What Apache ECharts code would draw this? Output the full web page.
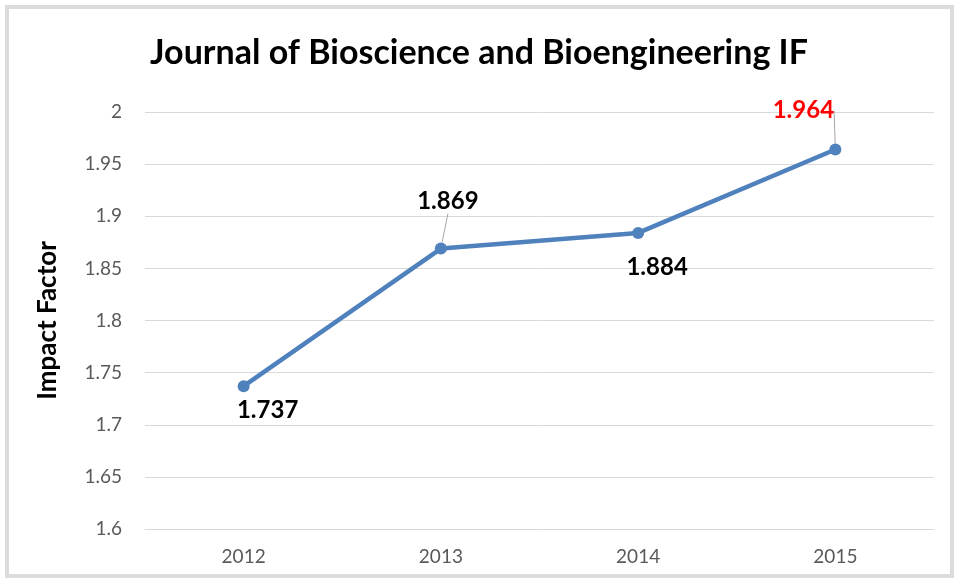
<!DOCTYPE html>
<html lang="en">
<head>
    <meta charset="UTF-8">
    <title>Journal of Bioscience and Bioengineering IF</title>
    <script src="https://cdn.jsdelivr.net/npm/echarts@6/dist/echarts.min.js"></script>
    <style>
        html, body { margin: 0; padding: 0; background: #fff; }
        #frame { position: absolute; left: 5px; top: 5px; width: 941px; height: 565px; border: 4px solid #dcdcdc; }
        #main { position: absolute; left: 0; top: 0; width: 958px; height: 581px; }
    </style>
</head>
<body>
<div id="frame"></div>
<div id="main"></div>
<script type="text/javascript">
    var years = ['2012', '2013', '2014', '2015'];
    var impactFactor = [1.737, 1.869, 1.884, 1.964];
    var yTicks = ['1.6', '1.65', '1.7', '1.75', '1.8', '1.85', '1.9', '1.95', '2'];

    // label offsets relative to the point
    var labelShift = [[24, 24], [7, -47], [19, 34], [-32, -39]];

    var myChart = echarts.init(document.getElementById('main'));
    var font = 'Lato, "Open Sans", sans-serif';

    var labelStyle = {
        show: true,
        position: 'inside',
        fontFamily: font,
        fontSize: 24,
        fontWeight: 'bold',
        color: '#000',
        formatter: function (p) { return p.value.toFixed(3); }
    };

    myChart.setOption({
        title: {
            text: 'Journal of Bioscience and Bioengineering IF',
            left: 'center',
            top: 31,
            textStyle: { fontFamily: font, fontSize: 34, fontWeight: 'bold', color: '#000' }
        },
        grid: { left: 145, right: 24, top: 112, bottom: 52 },
        xAxis: {
            type: 'category',
            data: years,
            boundaryGap: true,
            axisLine: { show: true, lineStyle: { color: '#d9d9d9', width: 1 } },
            axisTick: { show: false },
            axisLabel: { color: '#595959', fontFamily: font, fontSize: 19, margin: 18 }
        },
        yAxis: {
            type: 'value',
            min: Number(yTicks[0]),
            max: Number(yTicks[yTicks.length - 1]),
            interval: 0.05,
            name: 'Impact Factor',
            nameLocation: 'middle',
            nameGap: 84,
            nameRotate: 90,
            nameTextStyle: { fontFamily: font, fontSize: 26, fontWeight: 'bold', color: '#000' },
            axisLine: { show: false },
            axisTick: { show: false },
            splitLine: { lineStyle: { color: '#d9d9d9', width: 1 } },
            axisLabel: {
                color: '#595959', fontFamily: font, fontSize: 19, margin: 23,
                formatter: function (v) { return String(Math.round(v * 100) / 100); }
            }
        },
        series: [{
            type: 'line',
            data: impactFactor.map(function (v, i) {
                var item = { value: v };
                if (i === 1 || i === 3) {
                    item.labelLine = { show: true };
                }
                if (i === 3) {
                    item.label = Object.assign({}, labelStyle, { color: '#ff0000' });
                }
                return item;
            }),
            symbol: 'circle',
            symbolSize: 12,
            lineStyle: { color: '#4f81bd', width: 4.5 },
            itemStyle: { color: '#4f81bd' },
            label: labelStyle,
            labelLine: { show: false, lineStyle: { color: '#a6a6a6', width: 1 } },
            labelLayout: function (params) {
                var s = labelShift[params.dataIndex];
                return { dx: s[0], dy: s[1] };
            }
        }]
    });
</script>
</body>
</html>
